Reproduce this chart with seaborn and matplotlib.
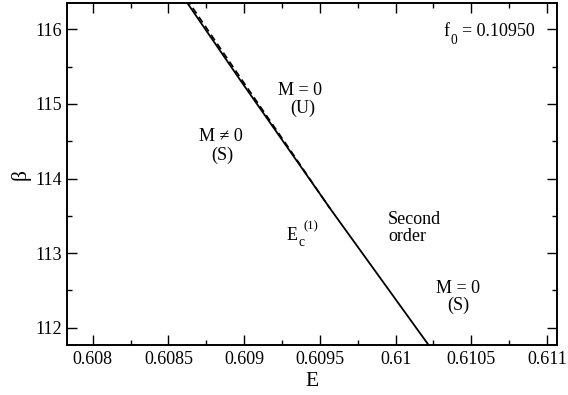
import matplotlib
matplotlib.use("Agg")
import matplotlib.pyplot as plt
from matplotlib.ticker import MultipleLocator
import pandas as pd
import seaborn as sns

# Phase boundary beta(E) at f0 = 0.10950
solid_E = [0.608575, 0.608974, 0.609575, 0.610242]
solid_beta = [116.50, 115.32, 113.577, 111.70]

# Dashed companion curve, merging with the solid one lower down
dashed_E = [0.608589, 0.608986, 0.609298, 0.609566]
dashed_beta = [116.50, 115.32, 114.40, 113.60]

sns.set_style("ticks")
plt.rcParams["font.family"] = ["Liberation Serif", "DejaVu Serif"]
plt.rcParams["text.color"] = "black"
plt.rcParams["axes.labelcolor"] = "black"

fig = plt.figure(figsize=(5.68, 3.95), dpi=100)
ax = fig.add_axes([0.1185, 0.1266, 0.8621, 0.865])

solid = pd.DataFrame({"E": solid_E, "beta": solid_beta})
dashed = pd.DataFrame({"E": dashed_E, "beta": dashed_beta})

sns.lineplot(data=solid, x="E", y="beta", sort=False, estimator=None,
             color="black", linewidth=1.3, ax=ax)
sns.lineplot(data=dashed, x="E", y="beta", sort=False, estimator=None,
             color="black", linewidth=1.2, linestyle=(0, (4, 2.5)), ax=ax)

ax.set_xlim(0.607832, 0.611066)
ax.set_ylim(111.768, 116.349)

ax.xaxis.set_major_locator(MultipleLocator(0.0005))
ax.xaxis.set_minor_locator(MultipleLocator(0.00025))
ax.yaxis.set_major_locator(MultipleLocator(1))
ax.yaxis.set_minor_locator(MultipleLocator(0.5))
ax.set_xticks([0.608, 0.6085, 0.609, 0.6095, 0.61, 0.6105, 0.611])
ax.set_xticklabels(["0.608", "0.6085", "0.609", "0.6095", "0.61", "0.6105", "0.611"])

ax.tick_params(which="both", direction="in", top=True, right=True,
               colors="black", labelsize=13)
ax.tick_params(which="major", length=7, width=1.0)
ax.tick_params(which="minor", length=3.5, width=1.0)
ax.tick_params(axis="x", which="major", pad=4.5)
ax.tick_params(axis="y", which="major", pad=3.5)

for s in ax.spines.values():
    s.set_linewidth(1.4)
    s.set_color("black")

ax.set_xlabel("E", fontsize=15.5, labelpad=3)
ax.set_ylabel("β", fontsize=15.5, labelpad=4)

tf = ax.transAxes
fs = 13
ax.text(0.768, 0.904, "f", transform=tf, ha="left", va="baseline", fontsize=fs)
ax.text(0.782, 0.880, "0", transform=tf, ha="left", va="baseline", fontsize=fs * 0.75)
ax.text(0.807, 0.904, "= 0.10950", transform=tf, ha="left", va="baseline", fontsize=fs)
ax.text(0.4747, 0.746, "M = 0", transform=tf, ha="center", va="center", fontsize=fs)
ax.text(0.481, 0.694, "(U)", transform=tf, ha="center", va="center", fontsize=fs)
ax.text(0.3139, 0.6096, "M ≠ 0", transform=tf, ha="center", va="center", fontsize=fs)
ax.text(0.3172, 0.5541, "(S)", transform=tf, ha="center", va="center", fontsize=fs)
ax.text(0.448, 0.307, "E", transform=tf, ha="left", va="baseline", fontsize=fs)
ax.text(0.472, 0.290, "c", transform=tf, ha="left", va="baseline", fontsize=fs * 0.75)
ax.text(0.482, 0.340, "(1)", transform=tf, ha="left", va="baseline", fontsize=fs * 0.7)
ax.text(0.655, 0.342, "Second\norder", transform=tf, ha="left", va="center",
        fontsize=fs, linespacing=0.95)
ax.text(0.798, 0.1639, "M = 0", transform=tf, ha="center", va="center", fontsize=fs)
ax.text(0.798, 0.117, "(S)", transform=tf, ha="center", va="center", fontsize=fs)

fig.savefig("out.png", dpi=100)
